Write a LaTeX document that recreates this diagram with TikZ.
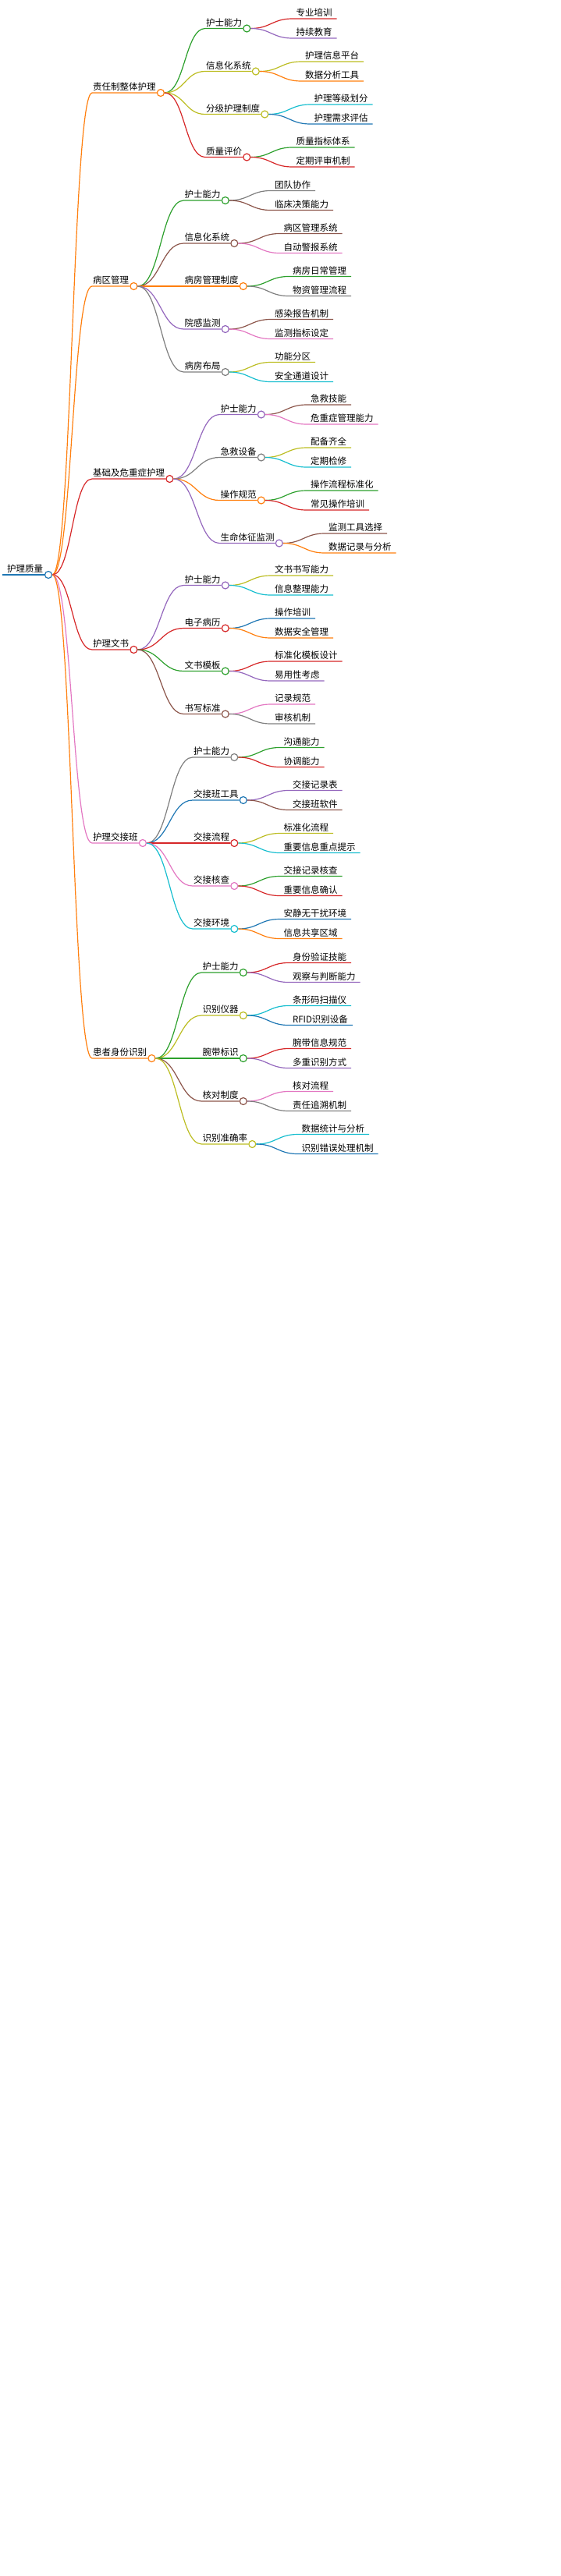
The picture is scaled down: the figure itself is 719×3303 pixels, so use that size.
\documentclass[tikz,border=0pt]{standalone}
\usepackage{fontspec}
\newfontfamily\cjk{Noto Sans CJK SC}
\usetikzlibrary{positioning}
\definecolor{cblue}{HTML}{1F77B4}
\definecolor{corange}{HTML}{FF7F0E}
\definecolor{cgreen}{HTML}{2CA02C}
\definecolor{cred}{HTML}{D62728}
\definecolor{cpurple}{HTML}{9467BD}
\definecolor{cbrown}{HTML}{8C564B}
\definecolor{cpink}{HTML}{E377C2}
\definecolor{cgray}{HTML}{7F7F7F}
\definecolor{colive}{HTML}{BCBD22}
\definecolor{ccyan}{HTML}{17BECF}
\tikzset{
  lbl/.style={anchor=south west, inner xsep=1pt, inner ysep=2pt, font=\cjk\fontsize{11.5}{13}\selectfont},
  dot/.style={circle, fill=white, line width=1.2pt, minimum size=9pt, inner sep=0pt},
  edge/.style={line width=1.2pt}
}
% #1 parent, #2 name, #3 colour, #4 dx, #5 dy, #6 text
\newcommand\kid[6]{%
  \path (#1.center) ++(#4,#5) coordinate (#2-s);
  \node[lbl] (#2-t) at (#2-s) {#6};
  \node[dot, draw=#3] (#2) at ([xshift=5pt]#2-t.south east) {};
  \draw[edge, #3] (#1.east) .. controls ([xshift={#4*0.45}]#1.east) and ([xshift={-#4*0.45}]#2-s) .. (#2-s) -- (#2.west);
}
\newcommand\leaf[5]{%
  \path (#1.center) ++(58,#4) coordinate (#2-s);
  \node[lbl, inner xsep=3pt] (#2-t) at ([xshift=2pt]#2-s) {#5};
  \draw[edge, #3] (#1.east) .. controls ([xshift=25pt]#1.east) and ([xshift=-25pt]#2-s) .. (#2-s) -- ([xshift=3pt]#2-t.south east);
}
\newcommand\pair[5]{% parent, colour a, text a, colour b, text b
  \leaf{#1}{#1a}{#2}{-12.5}{#3}
  \leaf{#1}{#1b}{#4}{12.5}{#5}
}
\begin{document}
\begin{tikzpicture}[x=1pt, y=-1pt]
  \useasboundingbox (0,0) rectangle (719,3303);
  %%%%% ROOT
  \node[dot, draw=cblue] (root) at (62,737) {};
  \node[lbl] (root-t) at (8,737) {护理质量};
  \draw[cblue, line width=2.5pt] (3,737) -- (root.west);
  %%%%% LEVEL 1
  \kid{root}{zr}{corange}{56}{-618}{责任制整体护理}
  \kid{root}{bq}{corange}{56}{-370}{病区管理}
  \kid{root}{jc}{cred}{56}{-123}{基础及危重症护理}
  \kid{root}{ws}{cred}{56}{96}{护理文书}
  \kid{root}{jj}{cpink}{56}{344}{护理交接班}
  \kid{root}{sf}{corange}{56}{620}{患者身份识别}
  %%%%% 责任制整体护理
  \kid{zr}{zr1}{cgreen}{57}{-82.5}{护士能力}
  \kid{zr}{zr2}{colive}{57}{-27.5}{信息化系统}
  \kid{zr}{zr3}{colive}{57}{27.5}{分级护理制度}
  \kid{zr}{zr4}{cred}{57}{82.5}{质量评价}
  \pair{zr1}{cred}{专业培训}{cpurple}{持续教育}
  \pair{zr2}{colive}{护理信息平台}{corange}{数据分析工具}
  \pair{zr3}{ccyan}{护理等级划分}{cblue}{护理需求评估}
  \pair{zr4}{cgreen}{质量指标体系}{cred}{定期评审机制}
  %%%%% 病区管理
  \kid{bq}{bq1}{cgreen}{64}{-110}{护士能力}
  \kid{bq}{bq2}{cbrown}{64}{-55}{信息化系统}
  \kid{bq}{bq3}{corange}{64}{0}{病房管理制度}
  \kid{bq}{bq4}{cpurple}{64}{55}{院感监测}
  \kid{bq}{bq5}{cgray}{64}{110}{病房布局}
  \pair{bq1}{cgray}{团队协作}{cbrown}{临床决策能力}
  \pair{bq2}{cbrown}{病区管理系统}{cpink}{自动警报系统}
  \pair{bq3}{cgreen}{病房日常管理}{cgray}{物资管理流程}
  \pair{bq4}{cbrown}{感染报告机制}{cpink}{监测指标设定}
  \pair{bq5}{colive}{功能分区}{ccyan}{安全通道设计}
  %%%%% 基础及危重症护理
  \kid{jc}{jc1}{cpurple}{64}{-82.5}{护士能力}
  \kid{jc}{jc2}{cgray}{64}{-27.5}{急救设备}
  \kid{jc}{jc3}{corange}{64}{27.5}{操作规范}
  \kid{jc}{jc4}{cpurple}{64}{82.5}{生命体征监测}
  \pair{jc1}{cbrown}{急救技能}{cpink}{危重症管理能力}
  \pair{jc2}{colive}{配备齐全}{ccyan}{定期检修}
  \pair{jc3}{cgreen}{操作流程标准化}{cred}{常见操作培训}
  \pair{jc4}{cbrown}{监测工具选择}{corange}{数据记录与分析}
  %%%%% 护理文书
  \kid{ws}{ws1}{cpurple}{64}{-82.5}{护士能力}
  \kid{ws}{ws2}{cred}{64}{-27.5}{电子病历}
  \kid{ws}{ws3}{cgreen}{64}{27.5}{文书模板}
  \kid{ws}{ws4}{cbrown}{64}{82.5}{书写标准}
  \pair{ws1}{colive}{文书书写能力}{ccyan}{信息整理能力}
  \pair{ws2}{cblue}{操作培训}{corange}{数据安全管理}
  \pair{ws3}{cred}{标准化模板设计}{cpurple}{易用性考虑}
  \pair{ws4}{cpink}{记录规范}{cgray}{审核机制}
  %%%%% 护理交接班
  \kid{jj}{jj1}{cgray}{64}{-110}{护士能力}
  \kid{jj}{jj2}{cblue}{64}{-55}{交接班工具}
  \kid{jj}{jj3}{cred}{64}{0}{交接流程}
  \kid{jj}{jj4}{cpink}{64}{55}{交接核查}
  \kid{jj}{jj5}{ccyan}{64}{110}{交接环境}
  \pair{jj1}{cgreen}{沟通能力}{cred}{协调能力}
  \pair{jj2}{cpurple}{交接记录表}{cbrown}{交接班软件}
  \pair{jj3}{colive}{标准化流程}{ccyan}{重要信息重点提示}
  \pair{jj4}{cgreen}{交接记录核查}{cred}{重要信息确认}
  \pair{jj5}{cblue}{安静无干扰环境}{corange}{信息共享区域}
  %%%%% 患者身份识别
  \kid{sf}{sf1}{cgreen}{64}{-110}{护士能力}
  \kid{sf}{sf2}{colive}{64}{-55}{识别仪器}
  \kid{sf}{sf3}{cgreen}{64}{0}{腕带标识}
  \kid{sf}{sf4}{cbrown}{64}{55}{核对制度}
  \kid{sf}{sf5}{colive}{64}{110}{识别准确率}
  \pair{sf1}{cred}{身份验证技能}{cpurple}{观察与判断能力}
  \pair{sf2}{ccyan}{条形码扫描仪}{cblue}{RFID识别设备}
  \pair{sf3}{cred}{腕带信息规范}{cpurple}{多重识别方式}
  \pair{sf4}{cpink}{核对流程}{cgray}{责任追溯机制}
  \pair{sf5}{ccyan}{数据统计与分析}{cblue}{识别错误处理机制}
\end{tikzpicture}
\end{document}
